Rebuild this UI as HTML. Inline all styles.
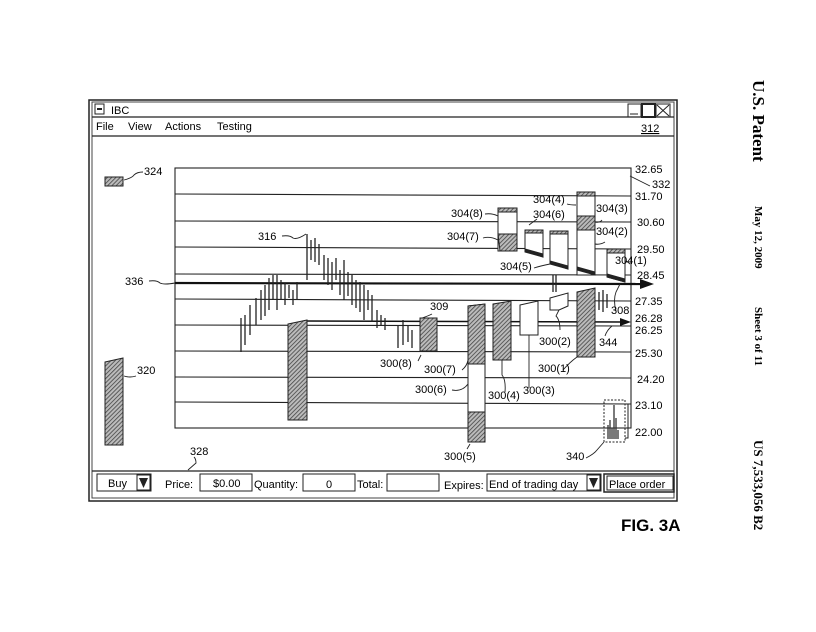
<!DOCTYPE html>
<html><head><meta charset="utf-8"><style>
html,body{margin:0;padding:0;background:#fff;}
svg{display:block;font-family:"Liberation Sans",Arial,sans-serif;}
</style></head><body>
<svg width="816" height="632" viewBox="0 0 816 632" xmlns="http://www.w3.org/2000/svg">
<defs>
<pattern id="h" width="3" height="3" patternUnits="userSpaceOnUse" patternTransform="rotate(45)">
<rect width="3" height="3" fill="#bbb"/><line x1="0" y1="0" x2="0" y2="3" stroke="#444" stroke-width="1.6"/>
</pattern>
</defs>
<rect width="816" height="632" fill="#fff"/>
<!-- window -->
<rect x="89" y="100" width="588" height="401" fill="none" stroke="#222" stroke-width="1.5"/>
<rect x="92" y="102" width="582" height="396" fill="none" stroke="#444" stroke-width="1"/>
<line x1="92" y1="117" x2="674" y2="117" stroke="#222" stroke-width="1.2"/>
<line x1="92" y1="136" x2="674" y2="136" stroke="#222" stroke-width="1.2"/>
<rect x="95" y="104" width="9" height="10" fill="none" stroke="#222"/><line x1="97" y1="109" x2="102" y2="109" stroke="#222" stroke-width="2"/>
<text x="111" y="114" font-size="11">IBC</text>
<rect x="628" y="104" width="13" height="13" fill="none" stroke="#222"/><line x1="630" y1="114" x2="638" y2="114" stroke="#222"/>
<rect x="642" y="104" width="13" height="13" fill="none" stroke="#222" stroke-width="2"/>
<rect x="656" y="104" width="14" height="13" fill="none" stroke="#222"/><path d="M657 105 L669 116 M669 105 L657 116" stroke="#222"/>
<g font-size="11"><text x="96" y="130">File</text><text x="128" y="130">View</text><text x="165" y="130">Actions</text><text x="217" y="130">Testing</text>
<text x="641" y="132" text-decoration="underline">312</text></g>
<!-- grid -->
<g stroke="#222" stroke-width="1.1">
<rect x="175" y="168" width="456" height="260" fill="none"/>
<line x1="175" y1="194" x2="631" y2="196"/><line x1="175" y1="221" x2="631" y2="222"/>
<line x1="175" y1="247" x2="631" y2="249"/><line x1="175" y1="274" x2="631" y2="275"/>
<line x1="175" y1="299" x2="631" y2="301"/><line x1="175" y1="325" x2="631" y2="326"/>
<line x1="175" y1="351" x2="631" y2="352"/><line x1="175" y1="377" x2="631" y2="378"/>
<line x1="175" y1="402" x2="631" y2="404"/>
</g>
<g font-size="11"><text x="635" y="173">32.65</text><text x="635" y="200">31.70</text><text x="637" y="226">30.60</text><text x="637" y="253">29.50</text><text x="637" y="279">28.45</text><text x="635" y="305">27.35</text><text x="635" y="322">26.28</text><text x="635" y="334">26.25</text><text x="635" y="357">25.30</text><text x="637" y="383">24.20</text><text x="635" y="409">23.10</text><text x="635" y="436">22.00</text></g>
<!-- arrows -->
<line x1="175" y1="283" x2="645" y2="284" stroke="#111" stroke-width="2.2"/><path d="M654 284 L640 279 L640 289Z" fill="#111"/>
<line x1="304" y1="321" x2="622" y2="322" stroke="#111" stroke-width="1.5"/><path d="M631 322 L620 318 L620 326Z" fill="#111"/>
<!-- ticks 316 -->
<g stroke="#222" stroke-width="1.3">
<line x1="241" y1="318" x2="241" y2="352"/><line x1="245" y1="315" x2="245" y2="345"/><line x1="250" y1="305" x2="250" y2="335"/><line x1="256" y1="298" x2="256" y2="325"/><line x1="261" y1="290" x2="261" y2="320"/><line x1="265" y1="285" x2="265" y2="316"/><line x1="269" y1="278" x2="269" y2="310"/><line x1="273" y1="275" x2="273" y2="300"/><line x1="277" y1="275" x2="277" y2="310"/><line x1="281" y1="280" x2="281" y2="300"/><line x1="285" y1="283" x2="285" y2="305"/><line x1="289" y1="285" x2="289" y2="298"/><line x1="293" y1="290" x2="293" y2="305"/><line x1="297" y1="282" x2="297" y2="300"/><line x1="307" y1="234" x2="307" y2="280"/><line x1="311" y1="240" x2="311" y2="260"/><line x1="315" y1="238" x2="315" y2="262"/><line x1="319" y1="244" x2="319" y2="265"/><line x1="324" y1="255" x2="324" y2="280"/><line x1="328" y1="258" x2="328" y2="285"/><line x1="332" y1="262" x2="332" y2="290"/><line x1="336" y1="258" x2="336" y2="280"/><line x1="340" y1="270" x2="340" y2="295"/><line x1="344" y1="260" x2="344" y2="300"/><line x1="348" y1="272" x2="348" y2="296"/><line x1="352" y1="275" x2="352" y2="305"/><line x1="356" y1="280" x2="356" y2="308"/><line x1="360" y1="282" x2="360" y2="312"/><line x1="364" y1="285" x2="364" y2="320"/><line x1="368" y1="290" x2="368" y2="310"/><line x1="372" y1="295" x2="372" y2="322"/><line x1="377" y1="310" x2="377" y2="328"/><line x1="381" y1="315" x2="381" y2="325"/><line x1="385" y1="318" x2="385" y2="330"/><line x1="398" y1="325" x2="398" y2="348"/><line x1="403" y1="320" x2="403" y2="345"/><line x1="408" y1="325" x2="408" y2="342"/><line x1="412" y1="330" x2="412" y2="348"/>
<line x1="553" y1="275" x2="553" y2="292"/><line x1="556" y1="275" x2="556" y2="292"/>
<line x1="599" y1="292" x2="599" y2="310"/><line x1="603" y1="290" x2="603" y2="312"/><line x1="607" y1="294" x2="607" y2="308"/>
</g>
<!-- bars -->
<g stroke="#222" stroke-width="1">
<rect x="105" y="177" width="18" height="9" fill="url(#h)"/>
<path d="M105 362 L123 358 L123 445 L105 445Z" fill="url(#h)"/>
<path d="M288 324 L307 320 L307 420 L288 420Z" fill="url(#h)"/>
<rect x="420" y="318" width="17" height="33" fill="url(#h)"/>
<path d="M468 306 L485 304 L485 442 L468 442Z" fill="#fff"/>
<path d="M468 306 L485 304 L485 364 L468 364Z" fill="url(#h)"/>
<rect x="468" y="412" width="17" height="30" fill="url(#h)"/>
<path d="M493 304 L511 301 L511 360 L493 360Z" fill="url(#h)"/>
<path d="M520 305 L538 301 L538 335 L520 335Z" fill="#fff"/>
<path d="M550 298 L568 293 L568 306 L559 310 L550 310Z" fill="#fff"/>
<path d="M577 292 L595 288 L595 357 L577 357Z" fill="url(#h)"/>
<!-- 304 -->
<rect x="498" y="208" width="19" height="43" fill="#fff"/>
<rect x="498" y="208" width="19" height="4" fill="url(#h)"/>
<path d="M498 234 L517 234 L517 251 L500 251Z" fill="url(#h)"/>
<path d="M525 230 L543 230 L543 257 L525 251Z" fill="#fff"/><rect x="525" y="230" width="18" height="3" fill="url(#h)"/><path d="M525 249 L543 254 L543 257 L525 252Z" fill="#222"/>
<path d="M550 231 L568 231 L568 269 L550 263Z" fill="#fff"/><rect x="550" y="231" width="18" height="3" fill="url(#h)"/><path d="M550 261 L568 266 L568 269 L550 264Z" fill="#222"/>
<rect x="577" y="192" width="18" height="83" fill="#fff"/><rect x="577" y="192" width="18" height="4" fill="url(#h)"/><rect x="577" y="216" width="18" height="14" fill="url(#h)"/><path d="M577 267 L595 272 L595 275 L577 270Z" fill="#222"/>
<path d="M607 249 L625 249 L625 282 L607 277Z" fill="#fff"/><rect x="607" y="249" width="18" height="4" fill="url(#h)"/><path d="M607 274 L625 279 L625 282 L607 277Z" fill="#222"/>
<rect x="604" y="400" width="21" height="42" fill="none" stroke-dasharray="2,1.5"/>
</g>
<g stroke="#333" stroke-width="1.3"><line x1="608" y1="425" x2="608" y2="439"/><line x1="610" y1="420" x2="610" y2="439"/><line x1="612" y1="428" x2="612" y2="439"/><line x1="614" y1="405" x2="614" y2="439"/><line x1="616" y1="418" x2="616" y2="439"/><line x1="618" y1="430" x2="618" y2="439"/></g>
<path d="M625 404 L628 404 L628 438 L625 438" fill="none" stroke="#222"/>
<!-- leader lines -->
<g fill="none" stroke="#222" stroke-width="0.9">
<path d="M124 180 Q132 178 134 175 Q137 172 143 172"/>
<path d="M124 376 Q130 378 136 376"/>
<path d="M282 236 Q290 235 293 238 Q297 240 306 234"/>
<path d="M149 281 Q157 280 160 283 Q164 285 175 283"/>
<path d="M422 318 Q428 316 432 314"/>
<path d="M418 361 L421 355"/>
<path d="M462 370 Q467 366 468 360"/>
<path d="M452 390 Q462 392 468 384"/>
<path d="M505 392 Q506 380 502 375 L502 360"/>
<path d="M529 388 L529 335"/>
<path d="M560 330 Q560 320 556 316 L559 310"/>
<path d="M563 370 Q570 362 577 357"/>
<path d="M467 449 L470 444"/>
<path d="M586 458 Q594 454 597 450 L604 442"/>
<path d="M605 336 Q607 330 612 326"/>
<path d="M616 311 Q613 300 616 292 L620 284"/>
<path d="M485 214 Q492 213 498 216"/>
<path d="M483 238 Q490 236 498 240"/>
<path d="M567 204 Q570 205 576 205"/>
<path d="M537 219 L529 225"/>
<path d="M595 222 Q600 223 602 220"/>
<path d="M595 244 Q600 245 605 242"/>
<path d="M534 268 Q540 266 550 264"/>
<path d="M625 261 Q627 261 630 264"/>
<path d="M630 176 Q638 180 650 186"/>
<path d="M188 470 L196 463 Q196 459 194 457"/>
</g>
<g font-size="11">
<text x="144" y="175">324</text><text x="137" y="374">320</text><text x="258" y="240">316</text><text x="125" y="285">336</text><text x="430" y="310">309</text>
<text x="380" y="367">300(8)</text><text x="424" y="373">300(7)</text><text x="415" y="393">300(6)</text><text x="488" y="399">300(4)</text><text x="523" y="394">300(3)</text><text x="539" y="345">300(2)</text><text x="538" y="372">300(1)</text><text x="444" y="460">300(5)</text><text x="566" y="460">340</text><text x="599" y="346">344</text><text x="611" y="314">308</text>
<text x="451" y="217">304(8)</text><text x="447" y="240">304(7)</text><text x="533" y="203">304(4)</text><text x="533" y="218">304(6)</text><text x="596" y="212">304(3)</text><text x="596" y="235">304(2)</text><text x="500" y="270">304(5)</text><text x="615" y="264">304(1)</text><text x="652" y="188">332</text><text x="190" y="455">328</text>
</g>
<!-- toolbar -->
<line x1="92" y1="471" x2="674" y2="471" stroke="#222" stroke-width="1.2"/>
<g fill="none" stroke="#222" stroke-width="1">
<rect x="97" y="474" width="54" height="17"/><rect x="137" y="475" width="13" height="15"/>
<rect x="200" y="474" width="52" height="17"/><rect x="303" y="474" width="52" height="17"/><rect x="387" y="474" width="52" height="17"/>
<rect x="487" y="474" width="114" height="17"/><rect x="587" y="475" width="13" height="15"/>
<rect x="604" y="474" width="70" height="18" stroke-width="1.5"/><rect x="607" y="476" width="66" height="14"/>
</g>
<path d="M139 478 L148 478 L143.5 488Z" fill="#222"/><path d="M589 478 L598 478 L593.5 488Z" fill="#222"/>
<g font-size="11"><text x="108" y="487">Buy</text><text x="165" y="488">Price:</text><text x="213" y="487">$0.00</text><text x="254" y="488">Quantity:</text><text x="326" y="488">0</text><text x="357" y="488">Total:</text><text x="444" y="489">Expires:</text><text x="489" y="488">End of trading day</text><text x="609" y="488">Place order</text></g>
<text x="621" y="531" font-size="17" font-weight="bold">FIG. 3A</text>
<g font-family="Liberation Serif,serif" font-weight="bold">
<text transform="translate(753,80) rotate(90)" font-size="17">U.S. Patent</text>
<text transform="translate(755,206) rotate(90)" font-size="11">May 12, 2009</text>
<text transform="translate(755,307) rotate(90)" font-size="11">Sheet 3 of 11</text>
<text transform="translate(754,440) rotate(90)" font-size="13">US 7,533,056 B2</text>
</g>
</svg>
</body></html>
